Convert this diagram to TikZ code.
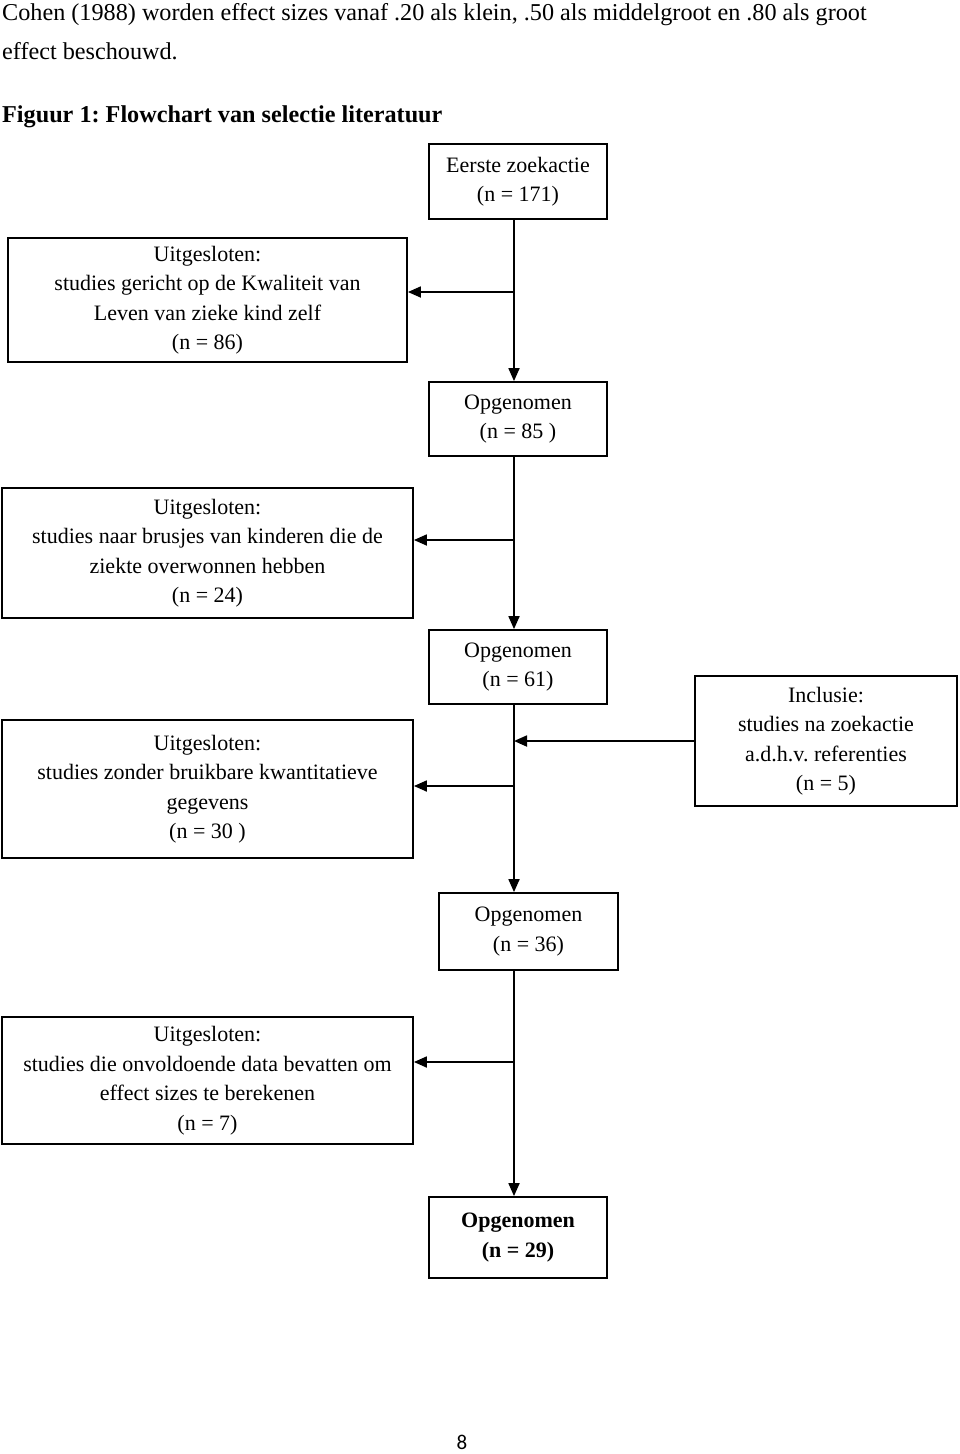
\documentclass[tikz,border=0pt]{standalone}
\usepackage{fontspec}
\setmainfont{Liberation Serif}
\newfontfamily\pagefont{Carlito}
\usetikzlibrary{arrows.meta}
\newcommand\boxfont{\fontsize{22}{29.5}\selectfont}
\newcommand\bodyfont{\fontsize{24.2}{39}\selectfont}
\frenchspacing

\begin{document}
\begin{tikzpicture}[x=1pt,y=-1pt,
  box/.style={draw,line width=1.8pt,align=center,inner sep=0pt,font=\boxfont},
  arr/.style={line width=1.8pt,-{Triangle[length=13pt,width=11pt]}}]
\useasboundingbox (0,0) rectangle (960,1454);
\node[anchor=base west,font=\bodyfont,inner sep=0pt] (cohen) at (2,20)
  {Cohen (1988) worden effect sizes vanaf .20 als klein, .50 als middelgroot en .80 als groot};
\node[anchor=base west,font=\bodyfont,inner sep=0pt] (besch) at (2,59) {effect beschouwd.};
\node[anchor=base west,font=\bodyfont\bfseries,inner sep=0pt] (figuur) at (2,122) {Figuur 1: Flowchart van selectie literatuur};

\node[box,minimum width=178,minimum height=75] (b1) at (518,181.5) {Eerste zoekactie\\(n = 171)};
\node[box,minimum width=399,minimum height=124] (b2) at (207.5,300)
  {Uitgesloten:\\studies gericht op de Kwaliteit van\\Leven van zieke kind zelf\\(n = 86)};
\node[box,minimum width=178,minimum height=74] (b3) at (518,419) {Opgenomen\\(n = 85 )};
\node[box,minimum width=411,minimum height=130] (b4) at (207.5,553)
  {Uitgesloten:\\studies naar brusjes van kinderen die de\\ziekte overwonnen hebben\\(n = 24)};
\node[box,minimum width=178,minimum height=74] (b5) at (518,667) {Opgenomen\\(n = 61)};
\node[box,minimum width=262,minimum height=130] (b6) at (826,741)
  {Inclusie:\\studies na zoekactie\\a.d.h.v. referenties\\(n = 5)};
\node[box,minimum width=411,minimum height=138] (b7) at (207.5,789)
  {Uitgesloten:\\studies zonder bruikbare kwantitatieve\\gegevens\\(n = 30 )};
\node[box,minimum width=179,minimum height=77] (b8) at (528.5,931.5) {Opgenomen\\(n = 36)};
\node[box,minimum width=411,minimum height=127] (b9) at (207.5,1080.5)
  {Uitgesloten:\\studies die onvoldoende data bevatten om\\effect sizes te berekenen\\(n = 7)};
\node[box,minimum width=178,minimum height=81,font=\boxfont\bfseries] (b10) at (518,1237.5) {Opgenomen\\(n = 29)};

\node[font=\pagefont\fontsize{21}{22}\selectfont,inner sep=0pt] (page) at (462,1442) {8};

\coordinate (spine) at (514,0);
\coordinate (j1) at (514,292);
\coordinate (j2) at (514,540);
\coordinate (j3) at (514,786);
\coordinate (j4) at (514,1062);

\draw[arr] (b1.south -| spine) -- (b3.north -| spine);
\draw[arr] (b3.south -| spine) -- (b5.north -| spine);
\draw[arr] (b5.south -| spine) -- (b8.north -| spine);
\draw[arr] (b8.south -| spine) -- (b10.north -| spine);
\foreach \j/\b in {j1/b2,j2/b4,j3/b7,j4/b9} {
  \draw[arr] (\j) -- (\j -| \b.east);
}
\draw[arr] (b6.west) -- (b6.west -| spine);
\end{tikzpicture}
\end{document}
